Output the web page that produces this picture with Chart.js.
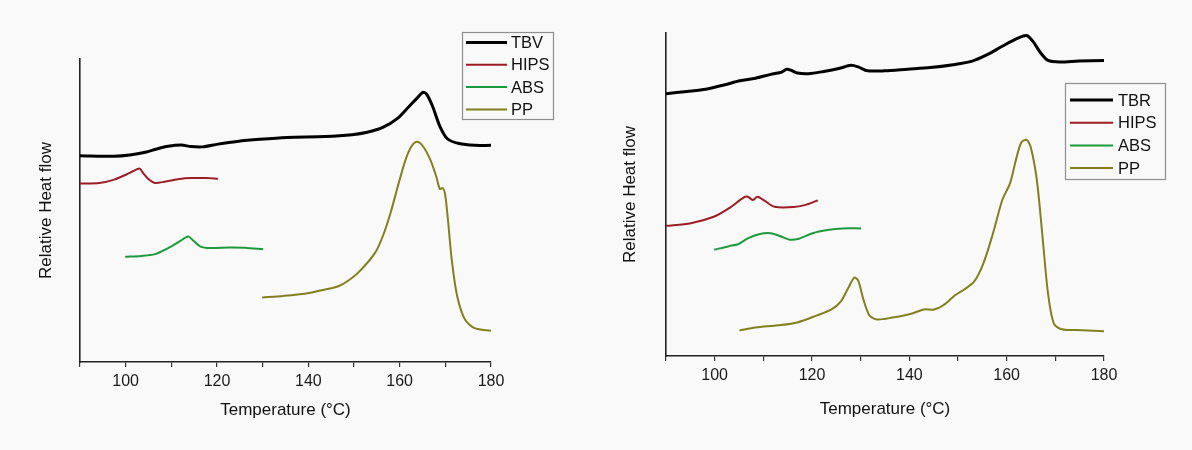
<!DOCTYPE html>
<html><head><meta charset="utf-8">
<script src="https://cdn.jsdelivr.net/npm/chart.js@4.4.0/dist/chart.umd.min.js"></script>
<style>
html,body{margin:0;padding:0;background:#f9f9f9;width:1192px;height:450px;overflow:hidden;}
.wrap{position:absolute;top:0;width:596px;height:450px;}
</style></head><body>
<div class="wrap" style="left:0"><canvas id="c1" width="596" height="450"></canvas></div>
<div class="wrap" style="left:596px"><canvas id="c2" width="596" height="450"></canvas></div>
<script>
// ---- Left panel data (TBV) ----
const tbvTemp = [90,97.5,100.9,104.3,106.8,109.3,112.2,114.3,116.8,120.2,124.4,129.4,135.3,143.7,149.6,152.9,156.3,159.6,162.1,163.8,165.1,165.9,167.2,168.8,170.5,173.0,176.4,180];
const tbvFlow = [68.1,67.9,68.3,69.2,70.3,71.2,71.6,71.1,71.0,71.9,72.8,73.5,74.1,74.4,75.0,75.8,77.4,80.5,84.4,87.1,89.0,88.4,84.4,77.8,73.6,72.1,71.5,71.5];
const hipsLTemp = [90,94.2,97.5,100.9,103.0,103.8,105.1,106.4,108.5,111.8,114.3,117.7,120.2];
const hipsLFlow = [58.9,59.1,60.2,62.4,63.9,62.4,60.2,59.1,59.5,60.4,60.7,60.7,60.5];
const absLTemp = [99.9,103.4,106.4,109.3,111.8,113.7,114.7,116.4,118.5,122.7,126.1,130.1];
const absLFlow = [34.7,35.0,35.6,37.6,39.8,41.4,40.2,38.1,37.6,37.8,37.7,37.2];
const ppLTemp = [129.9,134.5,139.5,143.7,146.6,148.7,151.2,154.6,156.3,158.0,159.6,161.3,162.6,163.8,165.1,166.7,168.0,168.8,169.4,169.9,170.5,171.4,172.6,174.3,176.4,180];
const ppLFlow = [21.3,21.8,22.6,23.9,25.0,26.8,29.9,36.0,41.5,49.2,58.0,66.8,71.2,72.7,71.2,66.8,61.3,57.1,57.4,55.8,48.1,33.8,21.7,14.0,11.2,10.3];

// ---- Right panel data (TBR) ----
const tbrTemp = [90,94.3,98.2,102.1,105.2,108.4,111.5,113.8,114.8,115.8,117.0,119.3,122.4,125.5,128.0,129.5,131.4,134.9,139.6,144.3,149.0,152.9,156.0,159.1,162.3,164.1,165.4,167.0,168.5,170.9,174.8,180];
const tbrFlow = [81.2,81.9,82.6,84.0,85.2,86.0,87.2,87.9,88.8,88.4,87.6,87.4,88.1,89.0,90.0,89.5,88.3,88.3,88.8,89.3,90.2,91.3,93.3,95.9,98.4,99.2,97.4,93.8,91.5,91.0,91.3,91.5];
const hipsRTemp = [90,95.1,99.8,102.9,106.0,106.8,107.8,108.8,110.3,112.3,116.2,118.5,121.2];
const hipsRFlow = [40.3,41.1,43.1,45.7,49.1,49.3,48.3,49.3,48.0,46.2,46.1,46.7,48.2];
const absRTemp = [99.9,102.9,104.8,106.8,109.1,111.5,113.8,115.4,117.3,120.1,123.2,126.3,130.1];
const absRFlow = [32.9,34.0,34.6,36.4,37.7,38.0,36.9,36.0,36.3,38.0,39.0,39.5,39.5];
const ppRTemp = [105.1,108.4,113.0,117.0,120.9,124.0,125.9,127.5,128.7,129.5,130.6,131.8,133.4,136.5,140.4,143.0,145.1,147.0,149.4,151.3,153.3,155.2,157.2,159.1,160.7,161.9,163.0,164.1,165.0,166.2,167.3,168.5,169.7,171.3,175.5,180];
const ppRFlow = [7.9,8.8,9.5,10.4,12.5,14.4,16.8,21.2,24.3,23.3,17.3,12.6,11.3,11.9,13.1,14.4,14.4,15.7,18.8,20.6,23.0,28.6,38.0,48.3,53.5,60.7,66.1,66.9,64.3,54.5,38.0,19.3,10.0,8.3,8.0,7.7];

const xTicks = [90,100,110,120,130,140,150,160,170,180];
const xLabelTicks = [100,120,140,160,180];

const FONT = '"Liberation Sans", Arial, sans-serif';
const COLORS = {main:'#000000', hips:'#9b1d25', abs:'#1e9a3e', pp:'#80801f'};

function pts(t, v){ return t.map((x,i)=>({x:x, y:v[i]})); }
function ds(label, t, v, color, w){
  return {label, data: pts(t,v), borderColor: color, backgroundColor: color, borderWidth: w,
          pointRadius: 0, tension: 0.28, fill: false};
}

const boxLegend = {
  id: 'boxLegend',
  afterDraw(chart, args, o){
    const ctx = chart.ctx; ctx.save();
    ctx.strokeStyle = '#8f8f8f'; ctx.lineWidth = 1.2;
    ctx.strokeRect(o.x + 0.5, o.y + 0.5, o.w, o.h);
    ctx.font = '16.5px ' + FONT; ctx.textBaseline = 'middle'; ctx.textAlign = 'left';
    chart.data.datasets.forEach((d, i) => {
      const y = o.firstY + i * o.step;
      ctx.strokeStyle = d.borderColor; ctx.lineWidth = d.borderWidth;
      ctx.beginPath(); ctx.moveTo(o.lx0, y); ctx.lineTo(o.lx1, y); ctx.stroke();
      ctx.fillStyle = '#111';
      ctx.fillText(d.label, o.tx, y + 1);
    });
    ctx.restore();
  }
};

function makeChart(id, datasets, pad, xh, yw, leg){
  return new Chart(document.getElementById(id), {
    type: 'line',
    data: {datasets},
    plugins: [boxLegend],
    options: {
      responsive: false, animation: false, devicePixelRatio: 1,
      layout: {padding: pad},
      plugins: {legend: {display: false}, tooltip: {enabled: false}, boxLegend: leg},
      scales: {
        x: {
          type: 'linear', min: 90, max: 180,
          afterBuildTicks: s => { s.ticks = xTicks.map(v => ({value: v})); },
          ticks: {autoSkip: false, maxRotation: 0, padding: 5, color: '#1a1a1a',
                  font: {family: FONT, size: 16},
                  callback: v => xLabelTicks.includes(v) ? String(v) : ''},
          grid: {display: true, drawOnChartArea: false, drawTicks: true, tickLength: 5, color: '#333', lineWidth: 1.2},
          border: {display: true, color: '#222', width: 1.6},
          title: {display: true, text: 'Temperature (°C)', color: '#111', font: {family: FONT, size: 17}, padding: 0},
          afterFit: s => { s.height = xh; }
        },
        y: {
          type: 'linear', min: 0, max: 100,
          ticks: {display: false},
          grid: {display: false},
          border: {display: true, color: '#222', width: 1.6},
          title: {display: true, text: 'Relative Heat flow', color: '#111', font: {family: FONT, size: 17}, padding: 0},
          afterFit: s => { s.width = yw; }
        }
      }
    }
  });
}

makeChart('c1', [
  ds('TBV', tbvTemp, tbvFlow, COLORS.main, 3),
  ds('HIPS', hipsLTemp, hipsLFlow, COLORS.hips, 2),
  ds('ABS', absLTemp, absLFlow, COLORS.abs, 2),
  ds('PP', ppLTemp, ppLFlow, COLORS.pp, 2)
], {left: 36, top: 59, right: 105, bottom: 29}, 59, 44,
 {x: 462, y: 32, w: 91, h: 87, firstY: 42.5, step: 22.3, lx0: 466, lx1: 507, tx: 511});

makeChart('c2', [
  ds('TBR', tbrTemp, tbrFlow, COLORS.main, 3),
  ds('HIPS', hipsRTemp, hipsRFlow, COLORS.hips, 2),
  ds('ABS', absRTemp, absRFlow, COLORS.abs, 2),
  ds('PP', ppRTemp, ppRFlow, COLORS.pp, 2)
], {left: 24, top: 33, right: 88, bottom: 30}, 64, 46,
 {x: 469, y: 83, w: 100, h: 96, firstY: 100, step: 22.7, lx0: 474, lx1: 517, tx: 522});
</script>
</body></html>
